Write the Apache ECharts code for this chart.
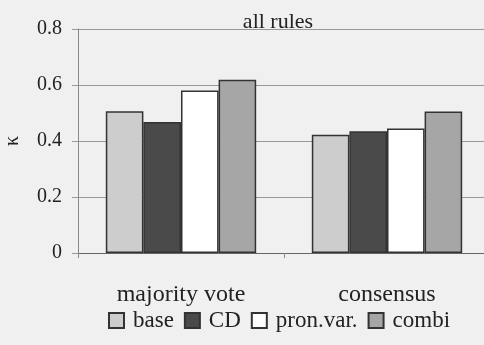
<!DOCTYPE html>
<html>
<head>
<meta charset="utf-8">
<script src="https://cdn.jsdelivr.net/npm/echarts@6/dist/echarts.min.js"></script>
<style>
  html, body { margin: 0; padding: 0; background: #f0f0f0; }
  #chart { width: 484px; height: 345px; }
</style>
</head>
<body>
<div id="chart"></div>
<script>
const categories = ['majority vote', 'consensus']
const seriesNames = ['base', 'CD', 'pron.var.', 'combi']
const base = [0.506, 0.422]
const cd = [0.468, 0.435]
const pronVar = [0.58, 0.445]
const combi = [0.619, 0.505]

const colors = ['#cdcdcd', '#4a4a4a', '#ffffff', '#a6a6a6']
const values = [base, cd, pronVar, combi]
const serif = '"Liberation Serif", "DejaVu Serif", serif'

const chart = echarts.init(document.getElementById('chart'))
chart.setOption({
  backgroundColor: '#f0f0f0',
  animation: false,
  title: {
    text: 'all rules',
    left: 273,
    top: 6,
    textAlign: 'center',
    textStyle: { fontFamily: serif, fontSize: 22, fontWeight: 'normal', color: '#222' },
  },
  legend: {
    data: seriesNames,
    top: 304,
    left: 103,
    itemWidth: 15,
    itemHeight: 15,
    itemGap: 10,
    icon: 'rect',
    textStyle: { fontFamily: serif, fontSize: 23, color: '#222', padding: [0, 0, 0, 4] },
  },
  grid: {
    left: 78,
    right: -6,
    top: 29,
    bottom: 92,
    outerBoundsMode: 'none',
  },
  xAxis: {
    type: 'category',
    data: categories,
    axisLine: { lineStyle: { color: '#666' } },
    axisTick: { show: true, length: 5, lineStyle: { color: '#888' } },
    axisLabel: { fontFamily: serif, fontSize: 24, color: '#222', margin: 30 },
  },
  yAxis: {
    type: 'value',
    min: 0,
    max: 0.8,
    interval: 0.2,
    name: 'κ',
    nameLocation: 'middle',
    nameGap: 55,
    nameRotate: 90,
    nameTextStyle: { fontFamily: serif, fontSize: 20, color: '#222' },
    axisLine: { show: true, lineStyle: { color: '#888' } },
    axisTick: { show: true, length: 6, lineStyle: { color: '#999' } },
    axisLabel: {
      fontFamily: serif,
      fontSize: 20,
      color: '#222',
      margin: 16,
      formatter: v => String(Math.round(v * 10) / 10),
    },
    splitLine: { lineStyle: { color: '#999', width: 1 } },
  },
  series: seriesNames.map((name, i) => ({
    name,
    type: 'bar',
    data: values[i],
    barGap: '0%',
    barCategoryGap: '27%',
    itemStyle: { color: colors[i], borderColor: '#333', borderWidth: 1.5 },
  })),
})
</script>
</body>
</html>
